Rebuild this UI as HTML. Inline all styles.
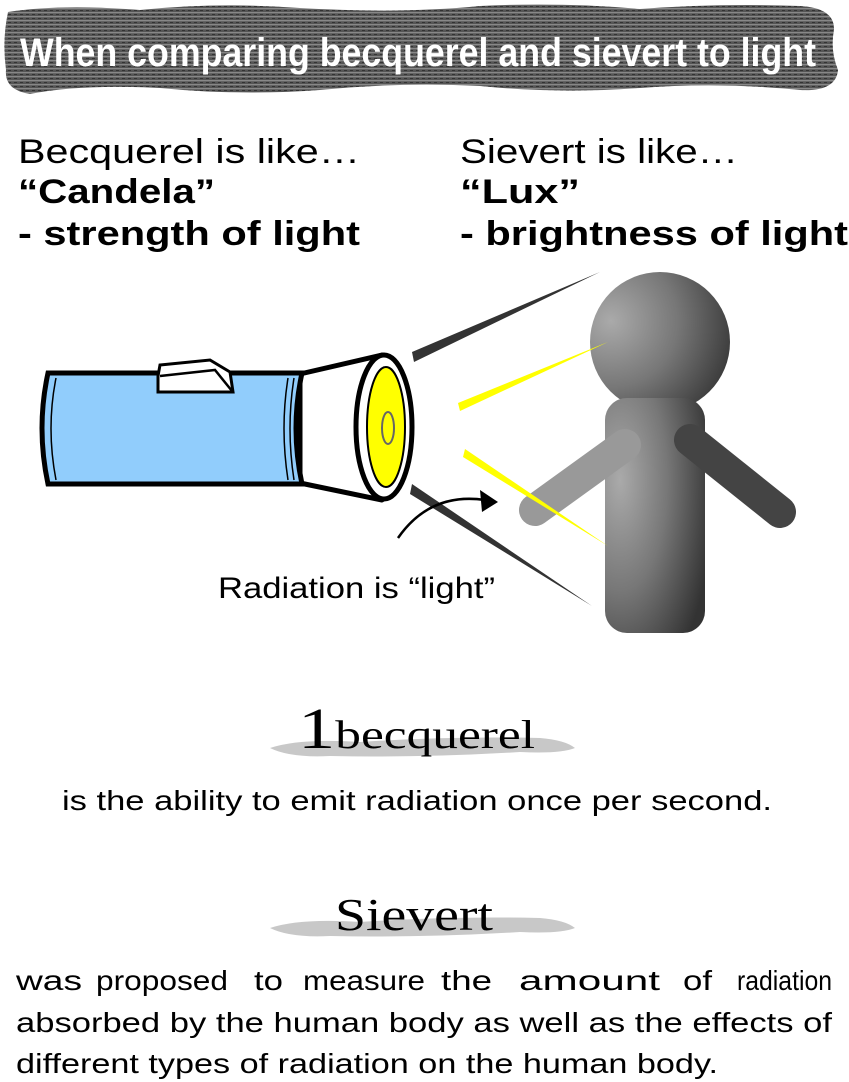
<!DOCTYPE html>
<html><head><meta charset="utf-8"><style>
html,body{margin:0;padding:0;background:#fff}
body{width:849px;height:1082px;position:relative;overflow:hidden}
</style></head><body>
<svg width="849" height="1082" style="position:absolute;left:0;top:0" font-family="Liberation Sans, sans-serif">
<defs>
<pattern id="st" width="6" height="4" patternUnits="userSpaceOnUse">
<rect width="6" height="4" fill="#555"/><rect y="0" width="6" height="1.3" fill="#888"/><rect x="2" y="2" width="3" height="1" fill="#333"/>
</pattern>
<radialGradient id="pg" cx="0.15" cy="0.35" r="0.95">
<stop offset="0" stop-color="#aaa"/><stop offset="0.5" stop-color="#777"/><stop offset="1" stop-color="#333"/>
</radialGradient>
</defs>
<path d="M8,12 Q60,4 140,10 Q220,2 300,8 Q400,14 480,6 Q560,2 640,9 Q720,3 800,6 Q835,8 834,30 Q830,50 838,70 Q836,92 800,90 Q720,82 640,88 Q560,94 480,86 Q400,82 320,90 Q240,96 160,88 Q80,84 30,94 Q4,90 6,70 Q2,40 8,12Z" fill="url(#st)"/>
<text x="20" y="66" font-weight="bold" font-size="40" fill="#fff" textLength="796" lengthAdjust="spacingAndGlyphs">When comparing becquerel and sievert to light</text>
<g fill="url(#pg)">
<ellipse cx="660" cy="342" rx="70" ry="70"/>
<rect x="605" y="398" width="100" height="235" rx="22"/>
<line x1="625" y1="445" x2="535" y2="510" stroke="#999" stroke-width="32" stroke-linecap="round"/>
<line x1="690" y1="440" x2="780" y2="512" stroke="#444" stroke-width="32" stroke-linecap="round"/>
</g>
<polygon points="412,352 600,272 414,362" fill="#333"/>
<polygon points="412,484 592,606 410,494" fill="#333"/>
<polygon points="458,403 608,342 460,411" fill="#ff0"/>
<polygon points="465,449 608,546 463,457" fill="#ff0"/>
<path d="M398,538 Q430,492 485,500" fill="none" stroke="#000" stroke-width="2.5"/>
<polygon points="498,502 480,490 482,512" fill="#000"/>
<path d="M300,374 L382,355 L382,500 L300,483 Z" fill="#fff" stroke="#000" stroke-width="5" stroke-linejoin="round"/>
<path d="M48,373 L302,373 Q290,428 302,484 L48,484 Q36,428 48,373Z" fill="#91cdfc" stroke="#000" stroke-width="5"/>
<path d="M56,378 Q46,428 56,480" fill="none" stroke="#000" stroke-width="1.5"/>
<path d="M288,378 Q280,428 288,480 M294,378 Q286,428 294,480" fill="none" stroke="#000" stroke-width="1.5"/>
<polygon points="158,376 160,365 210,360 230,372 233,392 158,392" fill="#fff" stroke="#000" stroke-width="3"/>
<path d="M160,376 L215,370 L232,391" fill="none" stroke="#000" stroke-width="2.5"/>
<ellipse cx="384" cy="427" rx="28" ry="72" fill="#fff" stroke="#000" stroke-width="5"/>
<ellipse cx="386" cy="427" rx="19" ry="60" fill="#ff0" stroke="#000" stroke-width="2"/>
<ellipse cx="388" cy="428" rx="6" ry="16" fill="none" stroke="#666" stroke-width="2"/>
<path d="M270,748 Q300,738 360,742 Q450,736 540,738 Q565,740 575,748 Q560,754 520,752 Q420,758 330,756 Q290,758 270,748Z" fill="#c8c8c8"/>
<path d="M270,928 Q300,918 360,922 Q450,916 540,918 Q565,920 575,928 Q560,934 520,932 Q420,938 330,936 Q290,938 270,928Z" fill="#c8c8c8"/>
<g font-size="34">
<text x="18" y="163" textLength="342" lengthAdjust="spacingAndGlyphs">Becquerel is like…</text>
<text x="18" y="203" font-weight="bold" textLength="197" lengthAdjust="spacingAndGlyphs">“Candela”</text>
<text x="18" y="245" font-weight="bold" textLength="342" lengthAdjust="spacingAndGlyphs">- strength of light</text>
<text x="460" y="163" textLength="278" lengthAdjust="spacingAndGlyphs">Sievert is like…</text>
<text x="460" y="203" font-weight="bold" textLength="120" lengthAdjust="spacingAndGlyphs">“Lux”</text>
<text x="460" y="245" font-weight="bold" textLength="388" lengthAdjust="spacingAndGlyphs">- brightness of light</text>
</g>
<text x="218" y="598" font-size="30" textLength="277" lengthAdjust="spacingAndGlyphs">Radiation is “light”</text>
<text x="298" y="748" font-family="Liberation Serif, serif" font-size="40" textLength="237" lengthAdjust="spacingAndGlyphs"><tspan font-size="58">1</tspan>becquerel</text>
<text x="62" y="810" font-size="28" textLength="710" lengthAdjust="spacingAndGlyphs">is the ability to emit radiation once per second.</text>
<text x="335" y="930" font-family="Liberation Serif, serif" font-size="46" textLength="158" lengthAdjust="spacingAndGlyphs">Sievert</text>
<g font-size="28">
<text x="16" y="990" textLength="66" lengthAdjust="spacingAndGlyphs">was</text>
<text x="96" y="990" textLength="132" lengthAdjust="spacingAndGlyphs">proposed</text>
<text x="254" y="990" textLength="29" lengthAdjust="spacingAndGlyphs">to</text>
<text x="303" y="990" textLength="122" lengthAdjust="spacingAndGlyphs">measure</text>
<text x="441" y="990" textLength="51" lengthAdjust="spacingAndGlyphs">the</text>
<text x="519" y="990" textLength="141" lengthAdjust="spacingAndGlyphs">amount</text>
<text x="683" y="990" textLength="29" lengthAdjust="spacingAndGlyphs">of</text>
<text x="737" y="990" textLength="95" lengthAdjust="spacingAndGlyphs">radiation</text>
<text x="16" y="1032" textLength="816" lengthAdjust="spacingAndGlyphs">absorbed by the human body as well as the effects of</text>
<text x="16" y="1073" textLength="702" lengthAdjust="spacingAndGlyphs">different types of radiation on the human body.</text>
</g>
</svg>
</body></html>
